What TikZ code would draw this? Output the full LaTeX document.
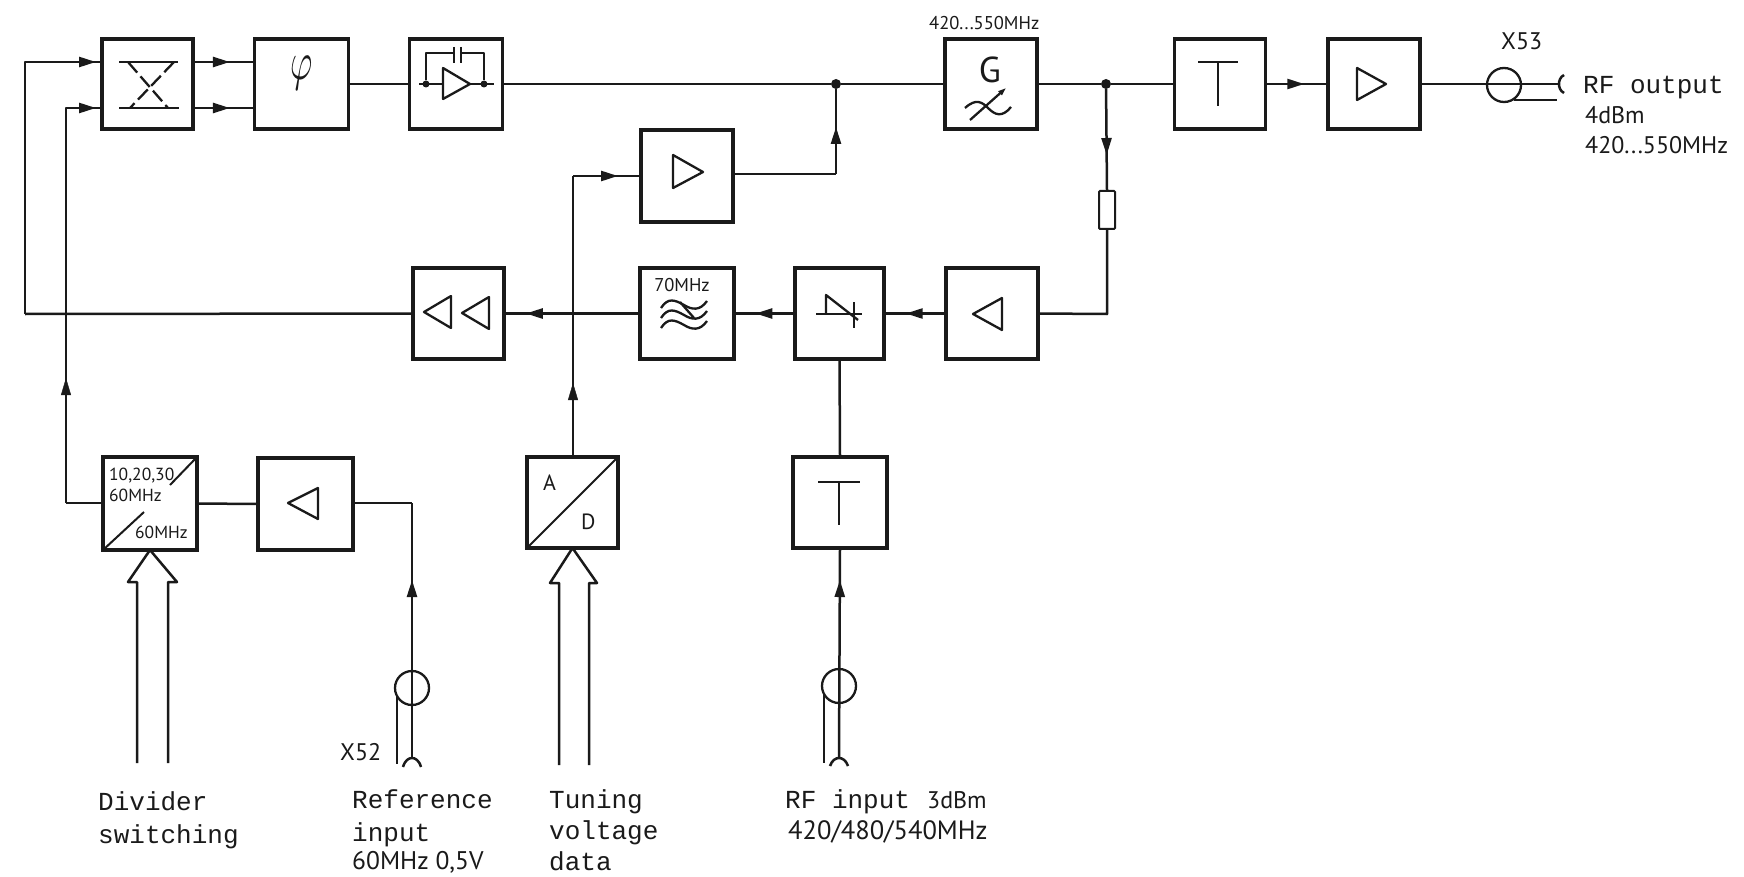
\documentclass[tikz,border=0pt]{standalone}
\usepackage{fontspec}
\setmainfont{PT Sans}
\newfontfamily\typew{Liberation Mono}
\usetikzlibrary{arrows.meta,decorations.markings}
\definecolor{ink}{HTML}{1A1A1A}
\tikzset{
  blk/.style={draw=ink,line width=3.2pt,inner sep=0pt,outer sep=0pt,rectangle},
  bw/.style={minimum width=91pt,minimum height=90pt},
  wire/.style={draw=ink,line width=2.5pt,line join=round},
  sym/.style={draw=ink,line width=2.3pt,line join=round},
  thin wire/.style={draw=ink,line width=2pt},
  midhead/.style={postaction={decorate},decoration={markings,mark=at position #1 with {\arrow[ink]{Triangle[length=17pt,width=10pt]}}}},
  dot/.style={circle,fill=ink,inner sep=0pt,minimum size=10pt,outer sep=0pt},
  smalldot/.style={circle,fill=ink,inner sep=0pt,minimum size=7pt,outer sep=0pt},
  conn/.style={circle,draw=ink,line width=2.3pt,minimum size=34pt,inner sep=0pt,outer sep=0pt},
  tw/.style={anchor=base west,inner sep=0pt,text=ink,font=\typew\fontsize{26}{26}\selectfont},
  ds/.style={anchor=base west,inner sep=0pt,text=ink,font=\fontsize{24}{24}\selectfont},
  dss/.style={anchor=base west,inner sep=0pt,text=ink,font=\fontsize{17.5}{17.5}\selectfont},
}
\begin{document}
\begin{tikzpicture}[x=1pt,y=-1pt]
\useasboundingbox[fill=white] (0,0) rectangle (1744,877);
% blocks
\node[blk,bw,minimum width=91pt] (mix) at (147.5,84) {};
\node[blk,bw,minimum width=94pt] (phi) at (301.5,84) {};
\node[blk,bw,minimum width=93pt] (integ) at (456,84) {};
\node[blk,bw,minimum width=92pt] (gen) at (991,84) {};
\node[blk,bw] (ta) at (1220,84) {};
\node[blk,bw,minimum width=92pt] (oamp) at (1374,84) {};
\node[blk,bw,minimum width=92pt,minimum height=92pt] (mamp) at (687,176) {};
\node[blk,bw,minimum height=91pt] (damp) at (458.5,313.5) {};
\node[blk,bw,minimum width=94pt,minimum height=91pt] (filt) at (687,313.5) {};
\node[blk,bw,minimum width=89pt,minimum height=91pt] (rect) at (839.5,313.5) {};
\node[blk,bw,minimum width=92pt,minimum height=91pt] (ramp) at (992,313.5) {};
\node[blk,bw,minimum width=94pt,minimum height=93pt] (div) at (150,503.5) {};
\node[blk,bw,minimum width=95pt,minimum height=92pt] (refamp) at (305.5,504) {};
\node[blk,bw,minimum height=91pt] (ad) at (572.5,502.5) {};
\node[blk,bw,minimum width=94pt,minimum height=91pt] (tb) at (840,502.5) {};
\node[draw=ink,line width=2pt,minimum width=16pt,minimum height=38pt,inner sep=0pt,outer sep=0pt,rounded corners=1pt] (res) at (1107,210) {};
% junctions and connectors' symbols
\node[dot] (j1) at (836,84) {};
\node[dot] (j2) at (1106,84) {};
\node[conn] (cref) at (412,688) {};
\node[conn] (crf) at (839,686) {};
\node[conn] (cout) at (1504,85) {};
\coordinate (cl1) at (25,314);
\coordinate (cl2) at (66,503);
\coordinate (cr1) at (412,503);
\coordinate (cm1) at (573,176);
\coordinate (cm2) at (836,174);
\coordinate (cj2) at (1107,314);
\coordinate (fref) at (412,758);
\coordinate (frf) at (839,758);
\coordinate (fout) at (1559,84);
% main wires
\draw[wire,midhead=323pt] (cl1) -- (25,62) -- (mix.west |- 25,62);
\draw[wire,midhead=425pt] (cl2) -- (66,108) -- (mix.west |- 66,108);
\draw[wire] (div.west |- cl2) -- (cl2);
\path[postaction={decorate},decoration={markings,mark=at position 125pt with {\arrow[ink]{Triangle[length=17pt,width=10pt]}}}] (cl2) -- (66,108);
\draw[wire,midhead=0.6] (mix.east |- 0,62) -- (phi.west |- 0,62);
\draw[wire,midhead=0.6] (mix.east |- 0,108) -- (phi.west |- 0,108);
\draw[wire] (phi.east) -- (integ.west);
\draw[wire] (integ.east) -- (j1);
\draw[wire] (j1) -- (gen.west);
\draw[wire] (gen.east) -- (j2);
\draw[wire] (j2) -- (ta.west);
\draw[wire,midhead=0.62] (ta.east) -- (oamp.west);
\draw[wire] (oamp.east) -- (fout);
\draw[wire,midhead=66pt] (j2) -- (res.north);
\draw[wire] (res.south) -- (cj2) -- (ramp.east);
\draw[wire,midhead=0.65] (ramp.west) -- (rect.east);
\draw[wire,midhead=0.65] (rect.west) -- (filt.east);
\draw[wire,midhead=0.84] (filt.west) -- (damp.east);
\draw[wire] (damp.west) -- (cl1);
\draw[wire] (mamp.east |- cm2) -- (cm2);
\draw[wire,midhead=47pt] (cm2) -- (j1);
\draw[wire] (ad.north -| cm1) -- (cm1);
\path[postaction={decorate},decoration={markings,mark=at position 74pt with {\arrow[ink]{Triangle[length=17pt,width=10pt]}}}] (ad.north -| cm1) -- (cm1);
\draw[wire,midhead=45pt] (cm1) -- (mamp.west |- cm1);
\draw[wire] (tb.north) -- (rect.south);
\draw[wire,midhead=178pt] (frf) -- (tb.south);
\draw[wire] (div.east) -- (refamp.west);
\draw[wire] (refamp.east |- cr1) -- (cr1);
\draw[wire,midhead=178pt] (fref) -- (cr1);
% connector forks and screens
\draw[wire] (403,767) .. controls (405,760) and (409,758) .. (fref) .. controls (415,758) and (419,760) .. (421,767);
\draw[wire] (830,766) .. controls (832,760) and (836,758) .. (frf) .. controls (842,758) and (846,760) .. (848,766);
\draw[wire] (1564,75) .. controls (1560,77) and (1559,81) .. (fout) .. controls (1559,87) and (1560,91) .. (1564,93);
\draw[thin wire] (397,697) -- (397,764);
\draw[thin wire] (824,695) -- (824,763);
\draw[thin wire] (1514,100) -- (1557,100);
% bus arrows
\draw[wire] (137,763) -- (137,582) -- (128,582) -- (div.south) -- (177,582) -- (168,582) -- (168,763);
\draw[wire] (559,765) -- (559,583) -- (550,583) -- (ad.south) -- (597,583) -- (589,583) -- (589,765);
% mixer symbol
\draw[wire] (119,62) -- (178,62);
\draw[wire] (119,108) -- (179,108);
\draw[sym,dash pattern=on 14pt off 5pt] (128,62) -- (168,108);
\draw[sym,dash pattern=on 14pt off 5pt] (174,62) -- (130,108);
% phi
\node[inner sep=0pt,text=ink,xscale=3.4,yscale=5.4] (phit) at (302,73) {$\varphi$};
% integrator
\draw[sym] (443,68) -- (470,84) -- (443,99) -- cycle;
\draw[sym] (419,84) -- (443,84);
\draw[sym] (470,84) -- (494,84);
\node[smalldot] (di1) at (426,84) {};
\node[smalldot] (di2) at (484,84) {};
\draw[sym] (di1) -- (426,53) -- (454,53);
\draw[sym] (461,53) -- (484,53) -- (di2);
\draw[sym] (454,47) -- (454,63);
\draw[sym] (461,47) -- (461,63);
% generator
\node[inner sep=0pt,text=ink] (gt) at (990,70) {\fontsize{36}{36}\selectfont G};
\draw[sym] (965,108) .. controls (976,98) and (982,102) .. (988,108) .. controls (995,115) and (1002,118) .. (1011,107);
\draw[sym,-{Triangle[length=8pt,width=5pt]}] (970,120) -- (1006,88);
% T blocks
\draw[sym] (1198,62) -- (1238,62);
\draw[sym] (1218,62) -- (1218,106);
\draw[sym] (818,482) -- (860,482);
\draw[sym] (839,482) -- (839,525);
% amplifier triangles
\draw[sym] (1357,68) -- (1386,84) -- (1357,100) -- cycle;
\draw[sym] (673,155) -- (703,172) -- (673,188) -- cycle;
\draw[sym] (1002,298) -- (973,314) -- (1002,330) -- cycle;
\draw[sym] (318,488) -- (288,503) -- (318,519) -- cycle;
\draw[sym] (451,296) -- (424,312) -- (451,328) -- cycle;
\draw[sym] (489,297) -- (462,313) -- (489,329) -- cycle;
% diode
\draw[sym] (816,314) -- (862,314);
\draw[sym] (826,314) -- (826,295) -- (858,320);
\draw[sym] (854,302) -- (854,328);
% filter waves
\draw[sym] (661,308) .. controls (668,297) and (675,300) .. (684,305) .. controls (692,310) and (700,311) .. (707,301);
\draw[sym] (661,318) .. controls (668,307) and (675,310) .. (684,315) .. controls (692,320) and (700,321) .. (707,311);
\draw[sym] (661,328) .. controls (668,317) and (675,320) .. (684,325) .. controls (692,330) and (700,331) .. (707,321);
\draw[sym] (680,302) -- (694,318);
% dividers
\draw[wire,line width=2pt] (div.north east) -- (170,485);
\draw[wire,line width=2pt] (div.south west) -- (144,512);
\draw[wire,line width=2pt] (ad.south west) -- (ad.north east);
% labels
\node[ds,font=\fontsize{18.5}{18.5}\selectfont] (l1) at (929,30) {420...550MHz};
\node[ds] (l2) at (1501,50) {X53};
\node[tw] (l3) at (1583,94) {RF output};
\node[ds] (l4) at (1585,124) {4dBm};
\node[ds] (l5) at (1585,154) {420...550MHz};
\node[ds,anchor=base,font=\fontsize{18.5}{18.5}\selectfont] (l6) at (682,291) {70MHz};
\node[dss] (l7) at (109,480) {10,20,30};
\node[dss] (l8) at (109,501) {60MHz};
\node[dss] (l9) at (135,538) {60MHz};
\node[ds,font=\fontsize{22}{22}\selectfont] (l10) at (543,490) {A};
\node[ds,font=\fontsize{22}{22}\selectfont] (l11) at (581,529) {D};
\node[ds] (l12) at (340,760) {X52};
\node[tw] (l13) at (98,810) {Divider};
\node[tw] (l14) at (98,843) {switching};
\node[tw] (l15) at (352,808) {Reference};
\node[tw] (l16) at (352,841) {input};
\node[ds,font=\fontsize{25.5}{25.5}\selectfont] (l17) at (352,869) {60MHz 0,5V};
\node[tw] (l18) at (549,808) {Tuning};
\node[tw] (l19) at (549,839) {voltage};
\node[tw] (l20) at (549,870) {data};
\node[tw] (l21) at (785,808) {RF input};
\node[ds] (l22) at (927,808) {3dBm};
\node[ds,font=\fontsize{26.5}{26.5}\selectfont] (l23) at (788,839) {420/480/540MHz};
\end{tikzpicture}
\end{document}
